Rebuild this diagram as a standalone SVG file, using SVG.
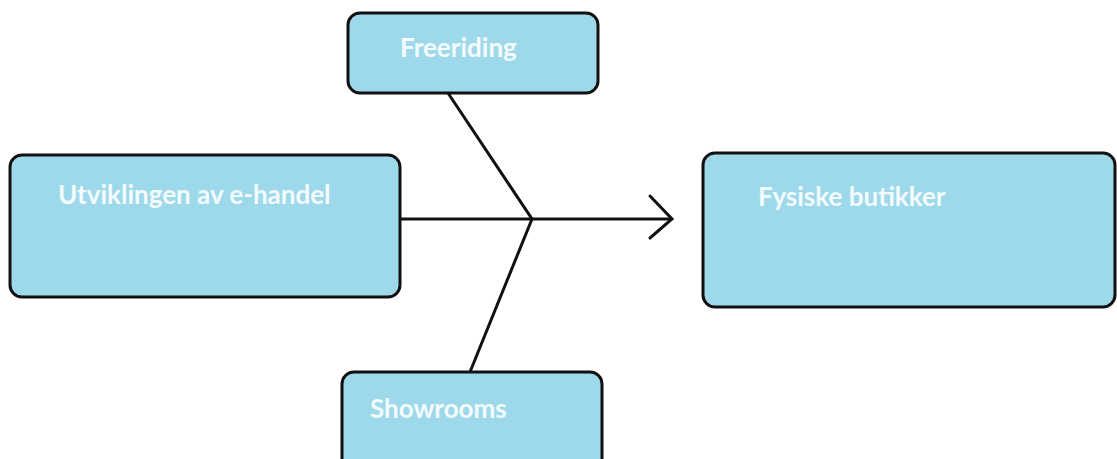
<svg xmlns="http://www.w3.org/2000/svg" width="1117" height="459" viewBox="0 0 1117 459">
<style>
.box{fill:#9dd9ea;stroke:#111;stroke-width:3}
.lbl{font-family:Lato,"Open Sans",sans-serif;font-weight:bold;font-size:26px;fill:#f4fbfd}
.ln{stroke:#111;stroke-width:3;fill:none;stroke-linecap:round;stroke-linejoin:miter}
</style>
<rect width="1117" height="459" fill="#fff"/>
<g id="connectors">
<line class="ln" x1="400" y1="219" x2="671" y2="219"/>
<polyline class="ln" points="650,196 672,219 650,238"/>
<polyline class="ln" points="448,93 532,219 470,372"/>
</g>
<g id="node-freeriding">
<rect class="box" x="348" y="13" width="250" height="80" rx="12"/>
<text class="lbl" x="400" y="57">Freeriding</text>
</g>
<g id="node-utvikling">
<rect class="box" x="10" y="155" width="390" height="142" rx="12"/>
<text class="lbl" x="58" y="204">Utviklingen av e-handel</text>
</g>
<g id="node-fysiske">
<rect class="box" x="703" y="153" width="412" height="154" rx="12"/>
<text class="lbl" x="758" y="206">Fysiske butikker</text>
</g>
<g id="node-showrooms">
<rect class="box" x="342" y="372" width="260" height="100" rx="12"/>
<text class="lbl" x="370" y="418">Showrooms</text>
</g>
</svg>
